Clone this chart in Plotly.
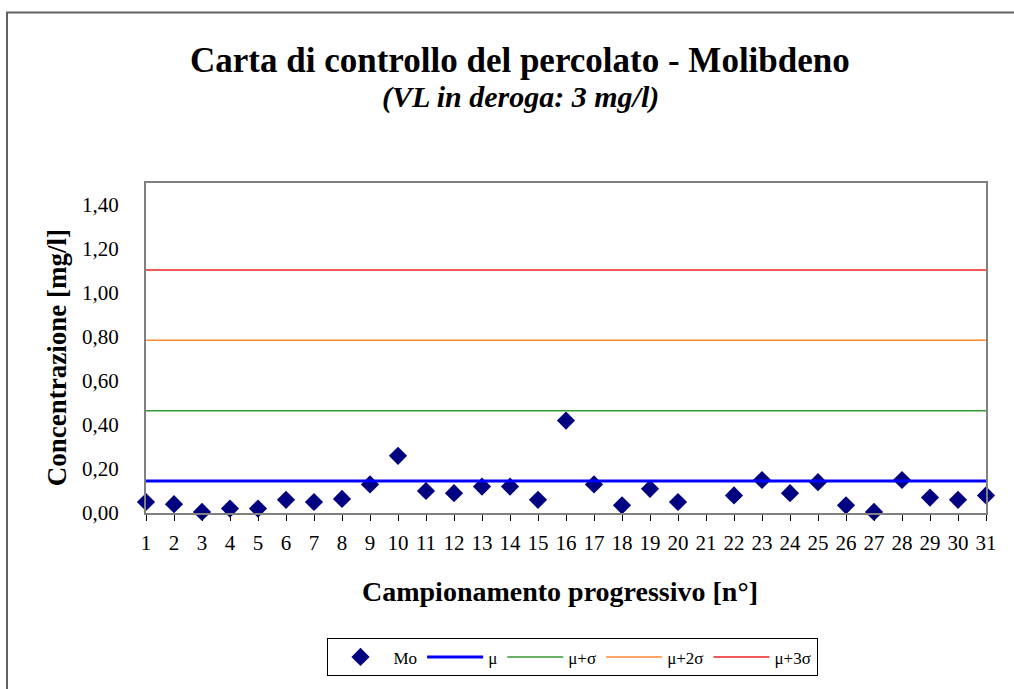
import plotly.graph_objects as go

# ---- data ----
campioni = list(range(1, 32))
mo_values = [0.05, 0.04, 0.005, 0.02, 0.02, 0.06, 0.05, 0.064, 0.13, 0.26,
             0.10, 0.09, 0.12, 0.12, 0.06, 0.42, 0.13, 0.035, 0.11, 0.05,
             None, 0.08, 0.15, 0.09, 0.14, 0.035, 0.005, 0.15, 0.07, 0.06, 0.08]
level_names = ["μ", "μ+σ", "μ+2σ", "μ+3σ"]
level_values = [0.145, 0.465, 0.785, 1.105]
level_colors = ["#0000FF", "#339933", "#FF8833", "#EE2222"]
level_widths = [3, 1.5, 1.5, 1.5]
y_ticks = [0.0, 0.2, 0.4, 0.6, 0.8, 1.0, 1.2, 1.4]

W, H = 1014, 689
L, R, T, B = 146, 986, 183, 520

def px(x):
    return (x - L) / (R - L)

def py(y):
    return (B - y) / (B - T)

serif = "Liberation Serif, Times New Roman, serif"

fig = go.Figure()
fig.add_trace(go.Scatter(
    x=campioni, y=mo_values, mode="markers", name="Mo",
    marker=dict(symbol="diamond", size=14, color="#000080"),
    cliponaxis=False,
))
for name, val, col, w in zip(level_names, level_values, level_colors, level_widths):
    fig.add_trace(go.Scatter(
        x=[campioni[0], campioni[-1]], y=[val, val], mode="lines", name=name,
        line=dict(color=col, width=w),
    ))

fig.update_layout(
    width=W, height=H,
    margin=dict(l=L, r=W - R, t=T, b=H - B, pad=0),
    paper_bgcolor="white", plot_bgcolor="white",
    separators=",.",
    font=dict(family=serif, color="black", size=18),
    showlegend=True,
    legend=dict(
        orientation="h", x=px(572), xanchor="center", y=py(648), yanchor="top",
        bordercolor="black", borderwidth=1, bgcolor="white",
        font=dict(family=serif, size=17), itemwidth=56,
        tracegroupgap=0,
    ),
    xaxis=dict(
        range=[1, 31], tickvals=campioni, ticktext=[str(c) for c in campioni],
        showgrid=False, zeroline=False, showline=True, linecolor="#808080",
        linewidth=2, mirror=True, ticks="outside", ticklen=6, tickcolor="black",
        tickfont=dict(family=serif, size=21), ticklabelstandoff=4,
    ),
    yaxis=dict(
        range=[0, 1.5], tickvals=y_ticks, tickformat=".2f",
        showgrid=False, zeroline=False, showline=True, linecolor="#808080",
        linewidth=2, mirror=True, ticks="",
        tickfont=dict(family=serif, size=21), ticklabelstandoff=21,
    ),
    annotations=[
        dict(text="<b>Carta di controllo del percolato - Molibdeno</b>",
             x=px(520), y=py(58), xref="paper", yref="paper", showarrow=False,
             xanchor="center", yanchor="middle",
             font=dict(family=serif, size=35, color="black")),
        dict(text="<b><i>(VL in deroga: 3 mg/l)</i></b>",
             x=px(520), y=py(95), xref="paper", yref="paper", showarrow=False,
             xanchor="center", yanchor="middle",
             font=dict(family=serif, size=30, color="black")),
        dict(text="<b>Concentrazione [mg/l]</b>", textangle=-90,
             x=px(57), y=py(362), xref="paper", yref="paper", showarrow=False,
             xanchor="center", yanchor="middle",
             font=dict(family=serif, size=27, color="black")),
        dict(text="<b>Campionamento progressivo [n°]</b>",
             x=px(560), y=py(600), xref="paper", yref="paper", showarrow=False,
             xanchor="center", yanchor="middle",
             font=dict(family=serif, size=28, color="black")),
    ],
    shapes=[
        dict(type="rect", xref="paper", yref="paper",
             x0=px(7), x1=px(1100), y0=py(760), y1=py(9),
             line=dict(color="#606060", width=2), fillcolor="rgba(0,0,0,0)",
             layer="below"),
    ],
)

fig.write_html("out.html", config={"displayModeBar": False},
               post_script="document.body.style.margin='0px';")
